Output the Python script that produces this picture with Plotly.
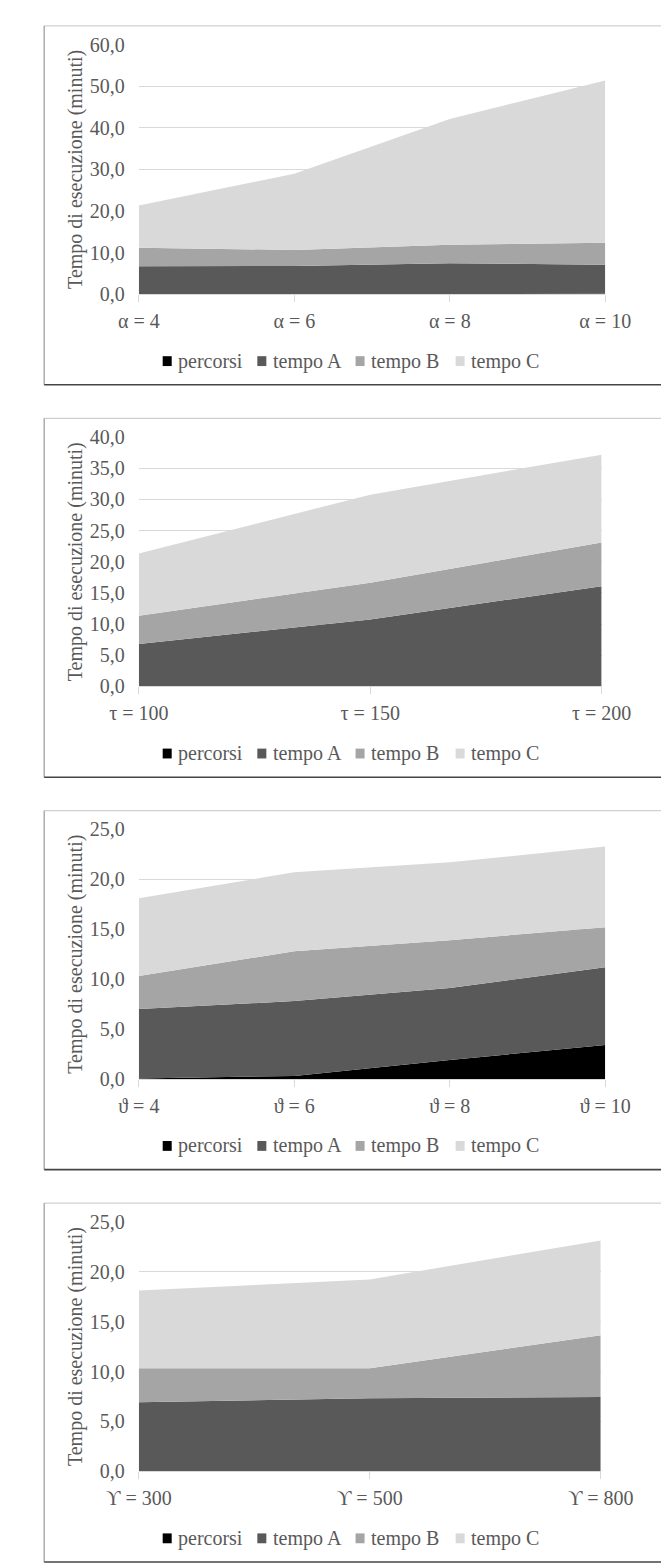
import plotly.graph_objects as go

# ---------------- data ----------------
series_names = ["percorsi", "tempo A", "tempo B", "tempo C"]
series_colors = ["#000000", "#595959", "#a5a5a5", "#d9d9d9"]

cats1 = ["α = 4", "α = 6", "α = 8", "α = 10"]
percorsi1 = [0.02, 0.03, 0.04, 0.05]
tempoA1 = [6.7, 6.7, 7.4, 7.0]
tempoB1 = [4.4, 3.9, 4.4, 5.3]
tempoC1 = [10.2, 18.3, 30.3, 39.0]
yticks1 = [0, 10, 20, 30, 40, 50, 60]

cats2 = ["τ = 100", "τ = 150", "τ = 200"]
percorsi2 = [0.03, 0.05, 0.08]
tempoA2 = [6.8, 10.7, 16.0]
tempoB2 = [4.5, 5.9, 7.0]
tempoC2 = [10.0, 14.1, 14.1]
yticks2 = [0, 5, 10, 15, 20, 25, 30, 35, 40]

cats3 = ["ϑ = 4", "ϑ = 6", "ϑ = 8", "ϑ = 10"]
percorsi3 = [0.05, 0.3, 1.9, 3.4]
tempoA3 = [6.95, 7.5, 7.2, 7.8]
tempoB3 = [3.3, 5.0, 4.8, 4.0]
tempoC3 = [7.8, 7.9, 7.8, 8.1]
yticks3 = [0, 5, 10, 15, 20, 25]

cats4 = ["ϒ = 300", "ϒ = 500", "ϒ = 800"]
percorsi4 = [0.02, 0.03, 0.04]
tempoA4 = [6.9, 7.3, 7.4]
tempoB4 = [3.4, 3.0, 6.2]
tempoC4 = [7.8, 8.9, 9.5]
yticks4 = [0, 5, 10, 15, 20, 25]

y_title = "Tempo di esecuzione (minuti)"

charts = [
    (cats1, [percorsi1, tempoA1, tempoB1, tempoC1], yticks1),
    (cats2, [percorsi2, tempoA2, tempoB2, tempoC2], yticks2),
    (cats3, [percorsi3, tempoA3, tempoB3, tempoC3], yticks3),
    (cats4, [percorsi4, tempoA4, tempoB4, tempoC4], yticks4),
]

# ---------------- layout geometry (figure pixels; page adds 8px body margin) ----------------
W, H = 669, 1565
FONT = "Liberation Serif, Times New Roman, serif"
TXT = "#595959"
box_tops = [7, 405, 803, 1201]
box_left, box_right, box_height = 3.5, 690, 364
plot_left = 108.5
plot_right = [626, 622, 626, 621]
legend_square_x = [135, 240, 349, 460]   # left edge of each legend key (figure px)
legend_key_size = 10
legend_text_gap = 5


def px_x(v):
    return v / W


def px_y(v):
    return 1 - v / H


def border(x0, y0, x1, y1, color, width):
    return dict(type="line", xref="paper", yref="paper", layer="below",
                x0=px_x(x0), x1=px_x(x1), y0=px_y(y0), y1=px_y(y1),
                line=dict(color=color, width=width))


fig = go.Figure()
layout = dict(
    width=W, height=H,
    margin=dict(l=0, r=0, t=0, b=0),
    paper_bgcolor="white", plot_bgcolor="white",
    separators=",.",
    font=dict(family=FONT, size=20, color=TXT),
    showlegend=False,
    shapes=[],
    annotations=[],
)

for i, (cats, vals, yt) in enumerate(charts):
    k = i + 1
    sx = "" if k == 1 else str(k)
    xa, ya = "x" + sx, "y" + sx
    top = box_tops[i]
    for name, color, v in zip(series_names, series_colors, vals):
        fig.add_trace(go.Scatter(
            x=cats, y=v, mode="lines", stackgroup="g%d" % k,
            line=dict(width=0, color=color), fillcolor=color,
            name=name, showlegend=False, xaxis=xa, yaxis=ya,
            hoverinfo="x+y+name",
        ))
    y_top_px = top + 19
    y_bot_px = top + 272
    layout["xaxis" + sx] = dict(
        domain=[px_x(plot_left), px_x(plot_right[i])],
        anchor=ya, type="category", range=[0, len(cats) - 1],
        showgrid=False, showline=True, linecolor="#d9d9d9", linewidth=1,
        ticks="outside", ticklen=7, tickcolor="#d9d9d9", tickwidth=1,
        ticklabelstandoff=2,
        tickfont=dict(family=FONT, size=20, color=TXT),
        fixedrange=True,
    )
    layout["yaxis" + sx] = dict(
        domain=[px_y(y_bot_px), px_y(y_top_px)],
        anchor=xa, range=[0, yt[-1]], tickvals=yt, tickformat=".1f",
        showgrid=True, gridcolor="#d9d9d9", gridwidth=1,
        showline=False, zeroline=False, ticks="",
        ticklabelstandoff=13,
        tickfont=dict(family=FONT, size=20, color=TXT),
        title=dict(text=y_title, font=dict(family=FONT, size=20, color=TXT), standoff=1),
        fixedrange=True,
    )
    # legend: coloured keys + labels
    ly = top + 340
    for name, color, lx in zip(series_names, series_colors, legend_square_x):
        layout["shapes"].append(dict(
            type="rect", xref="paper", yref="paper",
            x0=px_x(lx), x1=px_x(lx + legend_key_size),
            y0=px_y(ly + legend_key_size / 2), y1=px_y(ly - legend_key_size / 2),
            line=dict(width=0), fillcolor=color,
        ))
        layout["annotations"].append(dict(
            xref="paper", yref="paper", x=px_x(lx + legend_key_size + legend_text_gap),
            y=px_y(ly), xanchor="left", yanchor="middle", showarrow=False,
            text=name, font=dict(family=FONT, size=20, color=TXT),
        ))
    # chart-area frame: light top, grey sides, dark bottom (as in the reference)
    bot = top + box_height
    layout["shapes"].append(border(box_left, top, box_right, top, "#c4c4c4", 1))
    layout["shapes"].append(border(box_left, top, box_left, bot, "#858585", 1))
    layout["shapes"].append(border(box_left, bot, box_right, bot, "#454545", 1.6))

fig.update_layout(**layout)
fig.write_html("out.html")
